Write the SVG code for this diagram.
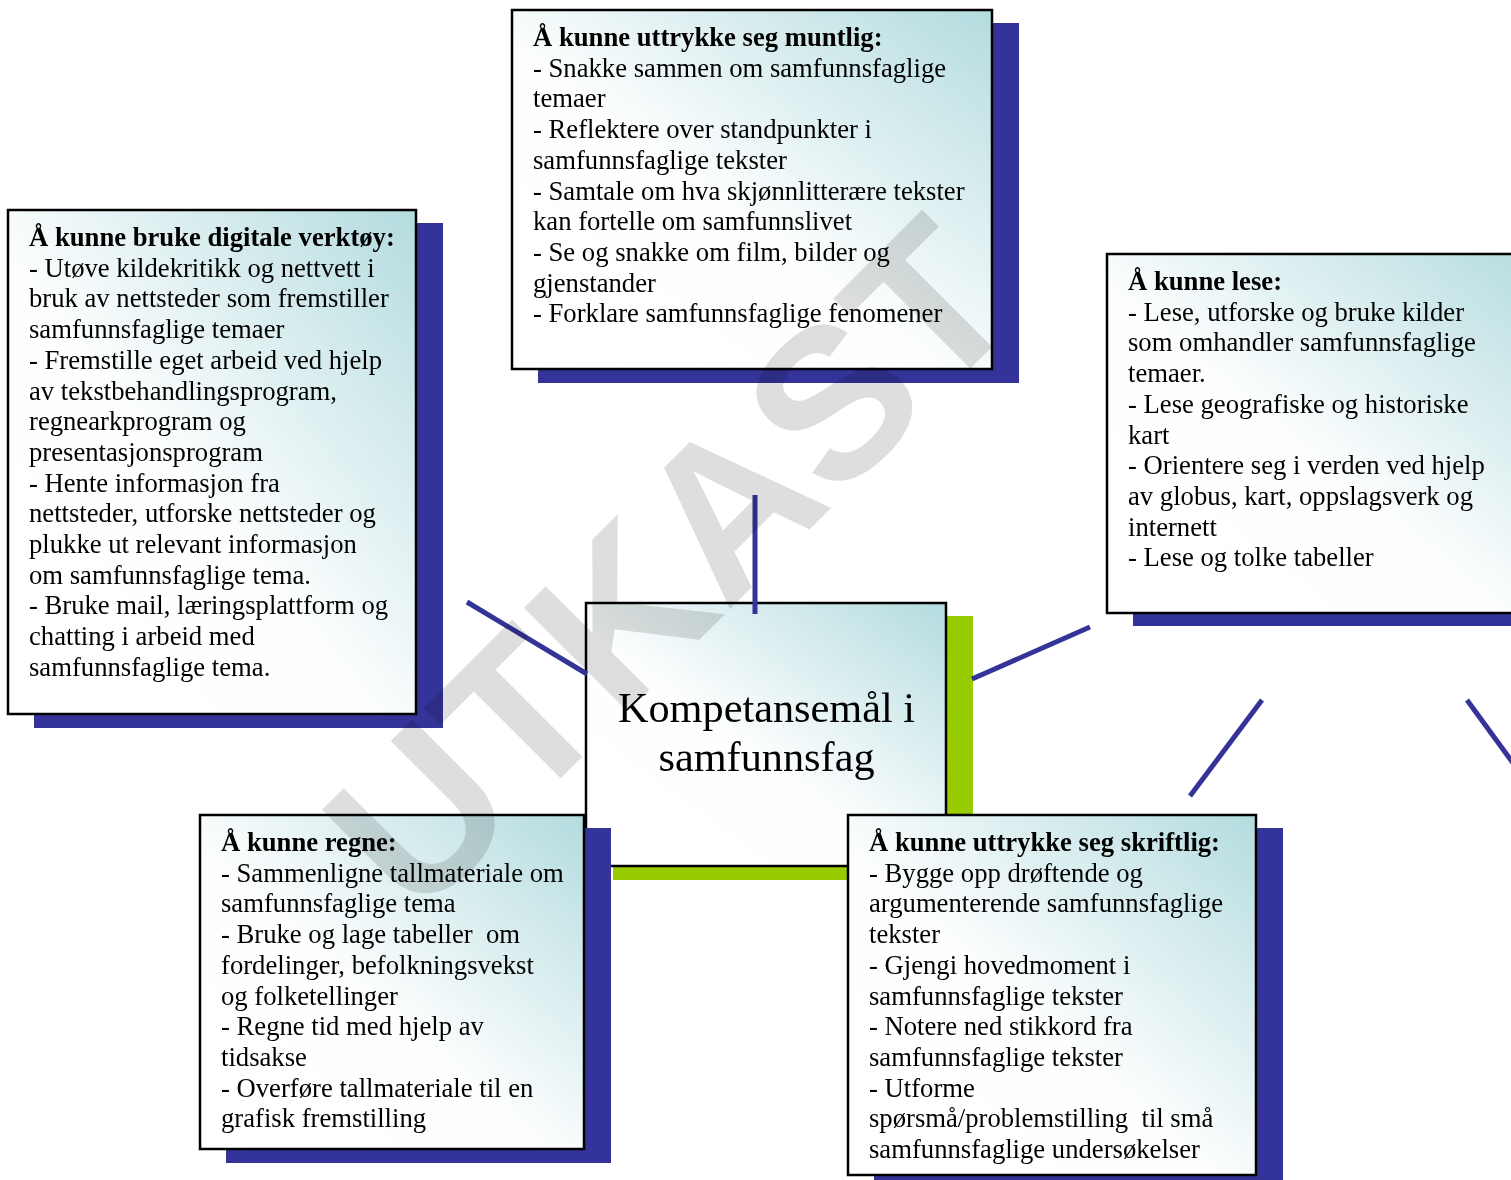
<svg xmlns="http://www.w3.org/2000/svg" width="1511" height="1180" viewBox="0 0 1511 1180">
<defs>
<linearGradient id="g" x1="0" y1="1" x2="1" y2="0">
<stop offset="0" stop-color="#ffffff"/>
<stop offset="0.45" stop-color="#fdfefe"/>
<stop offset="0.75" stop-color="#d5ebed"/>
<stop offset="1" stop-color="#b3dcdf"/>
</linearGradient>
</defs>
<style>
.box{fill:url(#g);stroke:#000;stroke-width:2.5}
.sh{fill:#333399}
.shg{fill:#99cc00}
.t{font-family:"Liberation Serif","Times New Roman",serif;font-size:26.67px;fill:#000;white-space:pre}
.b{font-weight:bold}
.big{font-family:"Liberation Serif","Times New Roman",serif;font-size:42.3px;fill:#000;text-anchor:middle}
.c{stroke:#333399;stroke-width:5;fill:none}
.wm{font-family:"Liberation Sans",Arial,sans-serif;font-weight:bold;font-size:213px;fill:#dedede;mix-blend-mode:multiply;text-anchor:middle}
</style>
<rect width="1511" height="1180" fill="#fff"/>

<g id="center">
<rect class="shg" x="613" y="616" width="360" height="264"/>
<rect class="box" x="586" y="603" width="360" height="263"/>
<text class="big"><tspan x="766.5" y="722">Kompetansemål i</tspan><tspan x="766.5" y="770.6">samfunnsfag</tspan></text>
</g>

<g id="muntlig">
<rect class="sh" x="538" y="23" width="481" height="360"/>
<rect class="box" x="512" y="10" width="480" height="359"/>
<text class="t">
<tspan class="b" x="533" y="46">Å kunne uttrykke seg muntlig:</tspan>
<tspan x="533" y="76.7">- Snakke sammen om samfunnsfaglige</tspan>
<tspan x="533" y="107.4">temaer</tspan>
<tspan x="533" y="138.1">- Reflektere over standpunkter i</tspan>
<tspan x="533" y="168.8">samfunnsfaglige tekster</tspan>
<tspan x="533" y="199.5">- Samtale om hva skjønnlitterære tekster</tspan>
<tspan x="533" y="230.2">kan fortelle om samfunnslivet</tspan>
<tspan x="533" y="260.9">- Se og snakke om film, bilder og</tspan>
<tspan x="533" y="291.6">gjenstander</tspan>
<tspan x="533" y="322.3">- Forklare samfunnsfaglige fenomener</tspan>
</text>
</g>

<g id="digital">
<rect class="sh" x="34" y="223" width="409" height="505"/>
<rect class="box" x="8" y="210" width="408" height="504"/>
<text class="t">
<tspan class="b" x="29" y="246">Å kunne bruke digitale verktøy:</tspan>
<tspan x="29" y="276.7">- Utøve kildekritikk og nettvett i</tspan>
<tspan x="29" y="307.4">bruk av nettsteder som fremstiller</tspan>
<tspan x="29" y="338.1">samfunnsfaglige temaer</tspan>
<tspan x="29" y="368.8">- Fremstille eget arbeid ved hjelp</tspan>
<tspan x="29" y="399.5">av tekstbehandlingsprogram,</tspan>
<tspan x="29" y="430.2">regnearkprogram og</tspan>
<tspan x="29" y="460.9">presentasjonsprogram</tspan>
<tspan x="29" y="491.6">- Hente informasjon fra</tspan>
<tspan x="29" y="522.3">nettsteder, utforske nettsteder og</tspan>
<tspan x="29" y="553">plukke ut relevant informasjon</tspan>
<tspan x="29" y="583.7">om samfunnsfaglige tema.</tspan>
<tspan x="29" y="614.4">- Bruke mail, læringsplattform og</tspan>
<tspan x="29" y="645.1">chatting i arbeid med</tspan>
<tspan x="29" y="675.8">samfunnsfaglige tema.</tspan>
</text>
</g>

<g id="lese">
<rect class="sh" x="1133" y="267" width="420" height="359"/>
<rect class="box" x="1107" y="254" width="440" height="359"/>
<text class="t">
<tspan class="b" x="1128" y="290">Å kunne lese:</tspan>
<tspan x="1128" y="320.7">- Lese, utforske og bruke kilder</tspan>
<tspan x="1128" y="351.4">som omhandler samfunnsfaglige</tspan>
<tspan x="1128" y="382.1">temaer.</tspan>
<tspan x="1128" y="412.8">- Lese geografiske og historiske</tspan>
<tspan x="1128" y="443.5">kart</tspan>
<tspan x="1128" y="474.2">- Orientere seg i verden ved hjelp</tspan>
<tspan x="1128" y="504.9">av globus, kart, oppslagsverk og</tspan>
<tspan x="1128" y="535.6">internett</tspan>
<tspan x="1128" y="566.3">- Lese og tolke tabeller</tspan>
</text>
</g>

<g id="regne">
<rect class="sh" x="226" y="828" width="385" height="335"/>
<rect class="box" x="200" y="815" width="384" height="334"/>
<text class="t">
<tspan class="b" x="221" y="851">Å kunne regne:</tspan>
<tspan x="221" y="881.7">- Sammenligne tallmateriale om</tspan>
<tspan x="221" y="912.4">samfunnsfaglige tema</tspan>
<tspan x="221" y="943.1">- Bruke og lage tabeller  om</tspan>
<tspan x="221" y="973.8">fordelinger, befolkningsvekst</tspan>
<tspan x="221" y="1004.5">og folketellinger</tspan>
<tspan x="221" y="1035.2">- Regne tid med hjelp av</tspan>
<tspan x="221" y="1065.9">tidsakse</tspan>
<tspan x="221" y="1096.6">- Overføre tallmateriale til en</tspan>
<tspan x="221" y="1127.3">grafisk fremstilling</tspan>
</text>
</g>

<g id="skriftlig">
<rect class="sh" x="874" y="828" width="409" height="362"/>
<rect class="box" x="848" y="815" width="408" height="360"/>
<text class="t">
<tspan class="b" x="869" y="851">Å kunne uttrykke seg skriftlig:</tspan>
<tspan x="869" y="881.7">- Bygge opp drøftende og</tspan>
<tspan x="869" y="912.4">argumenterende samfunnsfaglige</tspan>
<tspan x="869" y="943.1">tekster</tspan>
<tspan x="869" y="973.8">- Gjengi hovedmoment i</tspan>
<tspan x="869" y="1004.5">samfunnsfaglige tekster</tspan>
<tspan x="869" y="1035.2">- Notere ned stikkord fra</tspan>
<tspan x="869" y="1065.9">samfunnsfaglige tekster</tspan>
<tspan x="869" y="1096.6">- Utforme</tspan>
<tspan x="869" y="1127.3">spørsmå/problemstilling  til små</tspan>
<tspan x="869" y="1158">samfunnsfaglige undersøkelser</tspan>
</text>
</g>

<g id="connectors">
<line class="c" x1="755" y1="495" x2="755" y2="614"/>
<line class="c" x1="467" y1="602" x2="587" y2="674"/>
<line class="c" x1="972" y1="679" x2="1090" y2="627"/>
<line class="c" x1="1190" y1="796" x2="1262" y2="700"/>
<line class="c" x1="1467" y1="700" x2="1540" y2="800"/>
</g>

<g id="watermark">
<text class="wm" x="722" y="617" transform="rotate(-45 722 617)">UTKAST</text>
</g>
</svg>
